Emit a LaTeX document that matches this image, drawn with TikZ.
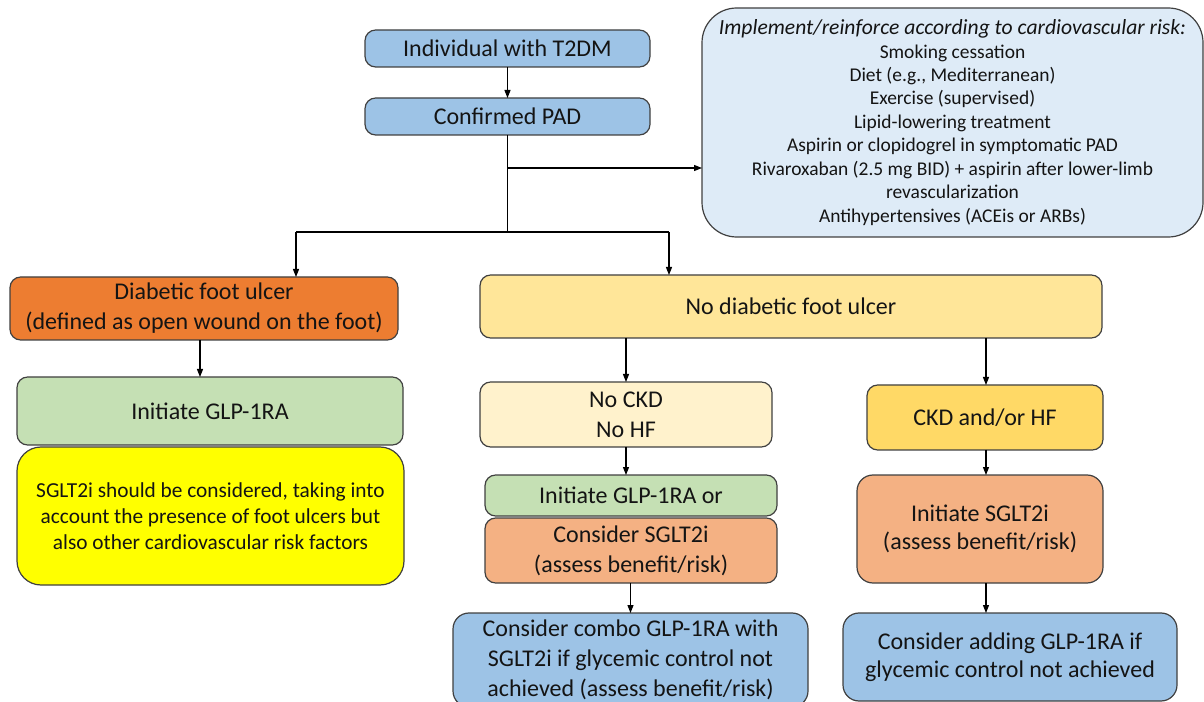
\documentclass[tikz,border=0pt]{standalone}
\usepackage{fontspec}
\setmainfont{Carlito}
\usetikzlibrary{arrows.meta,calc}
\definecolor{cblue}{HTML}{9DC3E6}
\definecolor{cpale}{HTML}{DEEBF7}
\definecolor{corange}{HTML}{ED7D31}
\definecolor{cgreen}{HTML}{C5E0B4}
\definecolor{cyel}{HTML}{FFFF00}
\definecolor{cnodfu}{HTML}{FFE699}
\definecolor{cnockd}{HTML}{FFF2CC}
\definecolor{cckd}{HTML}{FFD966}
\definecolor{clor}{HTML}{F4B183}
\definecolor{bord}{HTML}{404040}
\definecolor{txt}{HTML}{141414}
\begin{document}
\begin{tikzpicture}[x=0.75pt,y=-0.75pt,
  box/.style={draw=bord, line width=0.9pt, rounded corners=8pt, inner sep=0pt, outer sep=0pt,
    align=center, text=txt, font=\fontsize{18}{22.5}\selectfont},
  sz/.style 2 args={minimum width=#1*0.75pt, minimum height=#2*0.75pt},
  arr/.style={-{Triangle[length=6pt,width=4.5pt]}, line width=0.9pt, draw=black},
  ln/.style={line width=0.9pt, draw=black}]
\useasboundingbox (0,0) rectangle (1204,702);
\begin{scope}
\clip (0,0) rectangle (1204,702);
\node[box, sz={285}{37}, fill=cblue] (t2dm) at (507.5,48.5) {Individual with T2DM};
\node[box, sz={285}{37}, fill=cblue] (pad) at (507.5,116.5) {Confirmed PAD};
\node[box, sz={501}{229}, fill=cpale, rounded corners=26pt, font=\fontsize{14.6}{17.6}\selectfont] (risk) at (952.5,122.5)
  {{\fontsize{16.2}{17.6}\selectfont\itshape Implement/reinforce according to cardiovascular risk:}\\
   Smoking cessation\\
   Diet (e.g., Mediterranean)\\
   Exercise (supervised)\\
   Lipid-lowering treatment\\
   Aspirin or clopidogrel in symptomatic PAD\\
   Rivaroxaban (2.5 mg BID) + aspirin after lower-limb\\
   revascularization\\
   Antihypertensives (ACEis or ARBs)};
\node[box, sz={388}{63}, fill=corange] (dfu) at (204,308.5) {Diabetic foot ulcer\\(defined as open wound on the foot)};
\node[box, sz={386}{68}, fill=cgreen] (glp) at (210,411) {Initiate GLP-1RA};
\node[box, sz={387}{138}, fill=cyel, rounded corners=18pt, font=\fontsize{16}{19.5}\selectfont] (yel) at (210.5,516)
  {SGLT2i should be considered, taking into\\account the presence of foot ulcers but\\also other cardiovascular risk factors};
\node[box, sz={622}{63}, fill=cnodfu] (nodfu) at (791,306.5) {No diabetic foot ulcer};
\node[box, sz={292}{65}, fill=cnockd] (nockd) at (626,414.5) {No CKD\\No HF};
\node[box, sz={292}{41}, fill=cgreen] (glpor) at (631,495.5) {Initiate GLP-1RA or};
\node[box, sz={292}{65}, fill=clor] (sglt) at (631,550.5) {Consider SGLT2i\\(assess benefit/risk)};
\node[box, sz={355}{94}, fill=cblue, rounded corners=12pt] (combo) at (630.5,660) {Consider combo GLP-1RA with\\SGLT2i if glycemic control not\\achieved (assess benefit/risk)};
\node[box, sz={236}{65}, fill=cckd] (ckd) at (985,417.5) {CKD and/or HF};
\node[box, sz={246}{108}, fill=clor, rounded corners=12pt, font=\fontsize{18}{21}\selectfont] (isglt) at (980,529) {Initiate SGLT2i\\(assess benefit/risk)};
\node[box, sz={334}{88}, fill=cblue, rounded corners=12pt, font=\fontsize{18}{21}\selectfont] (adding) at (1010,657) {Consider adding GLP-1RA if\\glycemic control not achieved};
\end{scope}
% connectors
\coordinate (j) at (507.5,232);
\coordinate (jb) at (507.5,168);
\coordinate (jl) at (296,232);
\coordinate (jr) at (669,232);
\coordinate (xd) at (200,0);
\coordinate (xr) at (986,0);
\draw[arr] (t2dm) -- (pad);
\draw[ln] (pad.south) -- (j);
\draw[arr] (jb) -- (jb -| risk.west);
\draw[ln] (jl) -- (jr);
\draw[arr] (jl) -- (jl |- dfu.north);
\draw[arr] (jr) -- (jr |- nodfu.north);
\draw[arr] (xd |- dfu.south) -- (xd |- glp.north);
\draw[arr] (nockd.north |- nodfu.south) -- (nockd.north);
\draw[arr] (xr |- nodfu.south) -- (xr |- ckd.north);
\draw[arr] (nockd.south) -- (nockd.south |- glpor.north);
\draw[arr] (sglt.south -| combo.north) -- (combo.north);
\draw[arr] (xr |- ckd.south) -- (xr |- isglt.north);
\draw[arr] (xr |- isglt.south) -- (xr |- adding.north);
\end{tikzpicture}
\end{document}
